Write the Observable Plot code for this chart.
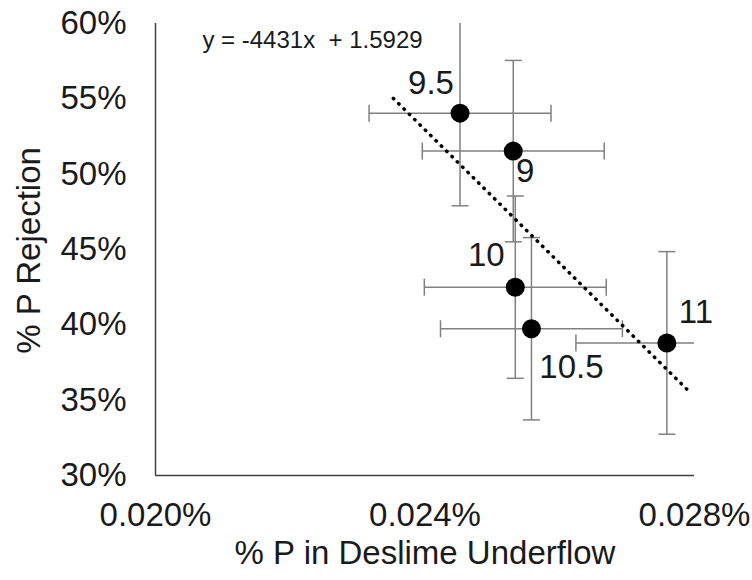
<!DOCTYPE html>
<html><head><meta charset="utf-8">
<script src="https://cdn.jsdelivr.net/npm/d3@7"></script>
<script src="https://cdn.jsdelivr.net/npm/@observablehq/plot@0.6"></script>
<style>body{margin:0;background:#fff}</style>
</head><body><div id="chart"></div>
<script>
// Data
const labels = ["9.5", "9", "10", "10.5", "11"];
const pUnderflow = [0.0002452, 0.0002531, 0.0002534, 0.0002558, 0.0002759];
const pRejection = [0.5405, 0.5153, 0.4250, 0.3974, 0.3880];
const xErr = [0.0000135, 0.0000135, 0.0000135, 0.0000135, 0.0000135];
const yErr = [0.0615, 0.0602, 0.0605, 0.0605, 0.0606];
const xTicks = [0.0002, 0.00024, 0.00028];
const yTicks = [0.30, 0.35, 0.40, 0.45, 0.50, 0.55, 0.60];
const trendSlope = -4431;
const trendIntercept = 1.5929;
const trendX = [0.0002353, 0.0002791];
const xTitle = "% P in Deslime Underflow";
const yTitle = "% P Rejection";

// Label placement (layout options, pixels)
const labelOffsets = [[-29, -30], [12, 20], [-29, -32], [40, 39], [29, -30]];

const data = labels.map((label, i) => ({label, x: pUnderflow[i], y: pRejection[i], xe: xErr[i], ye: yErr[i]}));
const trend = trendX.map(x => ({x, y: trendSlope * x + trendIntercept}));
const eqText = `y = ${trendSlope}x  + ${trendIntercept}`;

const hCap = {draw(ctx) { ctx.moveTo(-8.5, 0); ctx.lineTo(8.5, 0); }};
const vCap = {draw(ctx) { ctx.moveTo(0, -8.5); ctx.lineTo(0, 8.5); }};
const errColor = "#808080";
const txt = "#1a1a1a";
const fs = 33;

const chart = Plot.plot({
  width: 752, height: 580,
  marginLeft: 155, marginRight: 58, marginTop: 23, marginBottom: 105,
  style: {fontFamily: "'Liberation Sans', Arial, sans-serif", fontSize: fs + "px", color: txt, background: "#fff"},
  x: {domain: [0.0002, 0.00028]},
  y: {domain: [0.30, 0.60]},
  marks: [
    Plot.axisX({ticks: xTicks, tickFormat: d3.format(".3%"), tickSize: 0, tickPadding: 27, label: null, fontSize: fs, fill: txt}),
    Plot.axisY({ticks: yTicks, tickFormat: d3.format(".0%"), tickSize: 0, tickPadding: 29, label: null, fontSize: fs, fill: txt}),
    // error bars
    Plot.link(data, {x1: d => d.x - d.xe, x2: d => d.x + d.xe, y1: "y", y2: "y", stroke: errColor, strokeWidth: 1.5, clip: true}),
    Plot.link(data, {x1: "x", x2: "x", y1: d => d.y - d.ye, y2: d => d.y + d.ye, stroke: errColor, strokeWidth: 1.5, clip: true}),
    Plot.dot(data, {x: d => d.x - d.xe, y: "y", symbol: vCap, stroke: errColor, strokeWidth: 1.5, fill: "none", clip: true}),
    Plot.dot(data, {x: d => d.x + d.xe, y: "y", symbol: vCap, stroke: errColor, strokeWidth: 1.5, fill: "none", clip: true}),
    Plot.dot(data, {x: "x", y: d => d.y - d.ye, symbol: hCap, stroke: errColor, strokeWidth: 1.5, fill: "none", clip: true}),
    Plot.dot(data, {x: "x", y: d => d.y + d.ye, symbol: hCap, stroke: errColor, strokeWidth: 1.5, fill: "none", clip: true}),
    // trendline
    Plot.line(trend, {x: "x", y: "y", stroke: "#000", strokeWidth: 3.5, strokeDasharray: "0.5 7", strokeLinecap: "round"}),
    // points
    Plot.dot(data, {x: "x", y: "y", r: 9.5, fill: "#000", stroke: "none"}),
    // point labels
    ...data.map((d, i) => Plot.text([d], {x: "x", y: "y", text: "label", dx: labelOffsets[i][0], dy: labelOffsets[i][1], fontSize: fs, fill: txt})),
    // axis lines
    Plot.ruleX([0.0002], {stroke: "#404040", strokeWidth: 1.5}),
    Plot.ruleY([0.30], {stroke: "#404040", strokeWidth: 1.5}),
    // equation
    Plot.text([eqText], {frameAnchor: "top-left", dx: 157, dy: 7, textAnchor: "middle", fontSize: 24, fill: txt}),
    // axis titles
    Plot.text([xTitle], {frameAnchor: "bottom", dy: 88, textAnchor: "middle", fontSize: fs, fill: txt}),
    Plot.text([yTitle], {frameAnchor: "left", rotate: -90, dx: -126, dy: 1, textAnchor: "middle", fontSize: fs, fill: txt})
  ]
});
document.getElementById("chart").append(chart);
</script>
</body></html>
